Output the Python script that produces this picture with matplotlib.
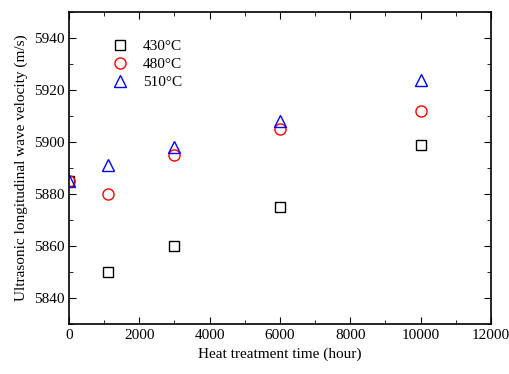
import matplotlib
matplotlib.use("Agg")
import matplotlib.pyplot as plt
from matplotlib.ticker import MultipleLocator

plt.rc("font", family="Liberation Serif", size=11)

# Heat treatment times (hour)
hours = [0, 1100, 3000, 6000, 10000]

# Ultrasonic longitudinal wave velocity (m/s)
v430 = [5885, 5850, 5860, 5875, 5899]
v480 = [5885, 5880, 5895, 5905, 5912]
v510 = [5885, 5891, 5898, 5908, 5924]

fig = plt.figure(figsize=(5.1, 3.74), dpi=100)
ax = fig.add_axes([69/510, 50/374, 422/510, 312/374])

ax.plot(hours, v430, ls="none", marker="s", ms=7, mfc="none", mec="black", mew=1, label="430°C")
ax.plot(hours, v480, ls="none", marker="o", ms=8, mfc="none", mec="red", mew=1, label="480°C")
ax.plot(hours, v510, ls="none", marker="^", ms=9, mfc="none", mec="blue", mew=1, label="510°C")

ax.set_xlim(0, 12000)
ax.set_ylim(5830, 5950)
ax.xaxis.set_major_locator(MultipleLocator(2000))
ax.xaxis.set_minor_locator(MultipleLocator(1000))
ax.yaxis.set_major_locator(MultipleLocator(20))
ax.yaxis.set_minor_locator(MultipleLocator(10))
ax.tick_params(which="both", direction="in", top=True, right=True, labelsize=11)
ax.tick_params(which="major", length=5)
ax.tick_params(which="minor", length=3)
for s in ax.spines.values():
    s.set_linewidth(1.2)

ax.set_xlabel("Heat treatment time (hour)", fontsize=11)
ax.set_ylabel("Ultrasonic longitudinal wave velocity (m/s)", fontsize=11)

ax.legend(loc="upper left", bbox_to_anchor=(0.066, 0.937), frameon=False,
          fontsize=11, handletextpad=0.5, labelspacing=0.28, borderpad=0)

fig.savefig("out.png", dpi=100)
